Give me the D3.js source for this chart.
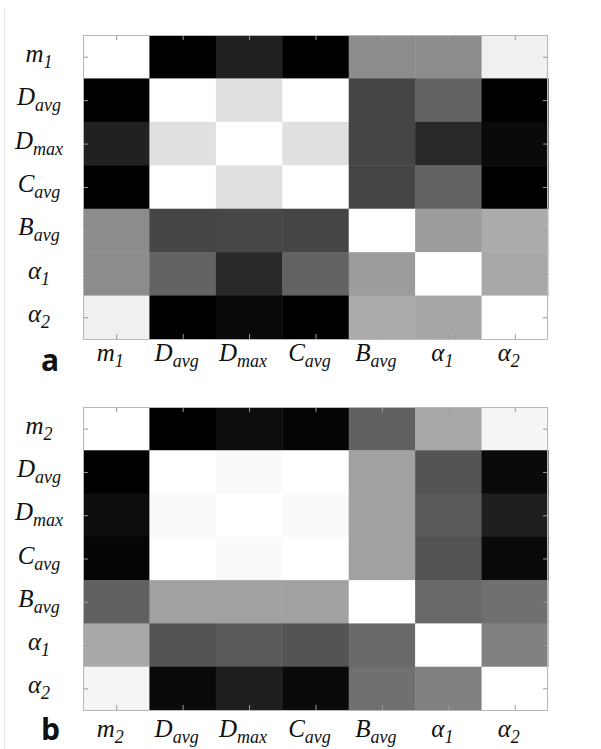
<!DOCTYPE html>
<html>
<head>
    <meta charset="utf-8">
    <title>Correlation matrices</title>
    <script src="https://d3js.org/d3.v7.min.js"></script>
    <style>
        body { margin: 0; background: #fff; }
        .lbl { font-family: "Liberation Serif", "DejaVu Serif", serif; font-style: italic; fill: #111; }
        .panel { font-family: "Open Sans", "DejaVu Sans", sans-serif; font-weight: bold; fill: #111; }
    </style>
</head>
<body>
    <div id="chart"></div>

    <script>
        // labels: [main letter, subscript]
        const labelsA = [["m","1"],["D","avg"],["D","max"],["C","avg"],["B","avg"],["α","1"],["α","2"]];
        const labelsB = [["m","2"],["D","avg"],["D","max"],["C","avg"],["B","avg"],["α","1"],["α","2"]];

        // matrix values (0 = black, 1 = white)
        const valuesA = [
            [1.00, 0.00, 0.13, 0.00, 0.55, 0.55, 0.94],
            [0.00, 1.00, 0.88, 1.00, 0.27, 0.39, 0.00],
            [0.13, 0.88, 1.00, 0.88, 0.27, 0.16, 0.04],
            [0.00, 1.00, 0.88, 1.00, 0.27, 0.39, 0.00],
            [0.55, 0.27, 0.28, 0.27, 1.00, 0.61, 0.67],
            [0.55, 0.39, 0.16, 0.39, 0.61, 1.00, 0.66],
            [0.94, 0.00, 0.04, 0.00, 0.67, 0.65, 1.00]
        ];
        const valuesB = [
            [1.00, 0.00, 0.05, 0.02, 0.38, 0.66, 0.96],
            [0.00, 1.00, 0.98, 1.00, 0.63, 0.33, 0.04],
            [0.05, 0.98, 1.00, 0.98, 0.63, 0.35, 0.12],
            [0.02, 1.00, 0.98, 1.00, 0.63, 0.33, 0.04],
            [0.38, 0.63, 0.63, 0.63, 1.00, 0.41, 0.44],
            [0.66, 0.33, 0.35, 0.33, 0.41, 1.00, 0.50],
            [0.96, 0.04, 0.12, 0.04, 0.44, 0.50, 1.00]
        ];

        const width = 601, height = 749;
        const svg = d3.select("#chart").append("svg")
            .attr("width", width)
            .attr("height", height);

        // faint line on the left edge
        svg.append("line")
            .attr("x1", 4.5).attr("x2", 4.5)
            .attr("y1", 8).attr("y2", height)
            .attr("stroke", "#e2e2e2");

        const gray = d3.scaleLinear().domain([0, 1]).range(["#000000", "#ffffff"]);

        function addLabel(g, x, y, lab, anchor) {
            const t = g.append("text")
                .attr("class", "lbl")
                .attr("x", x).attr("y", y)
                .attr("text-anchor", anchor);
            t.append("tspan").attr("font-size", 25).text(lab[0]);
            t.append("tspan")
                .attr("font-size", 18)
                .attr("dy", 6)
                .text(lab[1]);
        }

        function drawPanel(opts) {
            const { top, bottom, labels, values, letter, bottomOffset, letterY } = opts;
            const left = 83, right = 548;
            const idx = d3.range(labels.length);

            const x = d3.scaleBand().domain(idx).range([left, right]);
            const y = d3.scaleBand().domain(idx).range([top, bottom]);

            const g = svg.append("g");

            const cells = [];
            values.forEach((row, i) => row.forEach((v, j) => cells.push({ i, j, v })));

            g.selectAll("rect.cell")
                .data(cells)
                .join("rect")
                .attr("class", "cell")
                .attr("x", d => x(d.j))
                .attr("y", d => y(d.i))
                .attr("width", x.bandwidth() + 0.5)
                .attr("height", y.bandwidth() + 0.5)
                .attr("fill", d => gray(d.v));

            // box and inner ticks on all four sides
            const xc = d3.scalePoint().domain(idx).range([left + x.bandwidth() / 2, right - x.bandwidth() / 2]);
            const yc = d3.scalePoint().domain(idx).range([top + y.bandwidth() / 2, bottom - y.bandwidth() / 2]);

            const axes = [
                [d3.axisTop(xc), `translate(0,${top})`],
                [d3.axisBottom(xc), `translate(0,${bottom})`],
                [d3.axisLeft(yc), `translate(${left},0)`],
                [d3.axisRight(yc), `translate(${right},0)`]
            ];
            axes.forEach(([ax, tr]) => {
                const a = g.append("g")
                    .attr("transform", tr)
                    .call(ax.tickSizeInner(-5).tickSizeOuter(0).tickFormat(""));
                a.select(".domain").remove();
                a.selectAll(".tick line").attr("stroke", "#9a9a9a");
            });

            g.append("rect")
                .attr("x", left + 0.5).attr("y", top + 0.5)
                .attr("width", right - left - 1).attr("height", bottom - top)
                .attr("fill", "none")
                .attr("stroke", "#b8b8b8");

            // row labels
            labels.forEach((lab, i) => {
                addLabel(g, 39, yc(i) + 5, lab, "middle");
            });
            // column labels
            labels.forEach((lab, j) => {
                addLabel(g, xc(j) - 6, bottom + bottomOffset, lab, "middle");
            });

            g.append("text")
                .attr("class", "panel")
                .attr("x", 41)
                .attr("y", letterY)
                .attr("font-size", 30)
                .text(letter);
        }

        drawPanel({ top: 35, bottom: 339, labels: labelsA, values: valuesA, letter: "a", bottomOffset: 22, letterY: 371 });
        drawPanel({ top: 407, bottom: 710, labels: labelsB, values: valuesB, letter: "b", bottomOffset: 27, letterY: 740 });
    </script>
</body>
</html>
